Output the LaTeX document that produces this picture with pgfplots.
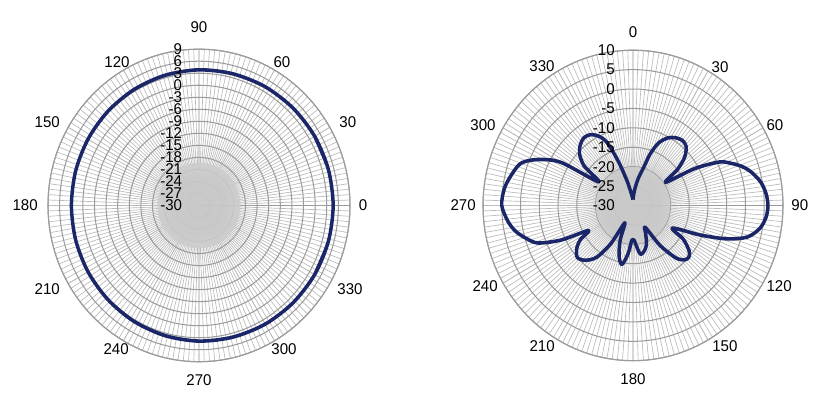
\documentclass[border=0pt]{standalone}
\usepackage{pgfplots}
\usepackage{pgfplotstable}
\pgfplotsset{compat=1.18}
\usepgfplotslibrary{polar}
\usepackage{fontspec}
\setmainfont{Liberation Sans}
\definecolor{navy}{RGB}{27,38,105}
\definecolor{ringc}{RGB}{155,155,155}
\definecolor{spokec}{RGB}{188,188,188}
\definecolor{diskc}{RGB}{204,204,204}
\pgfplotstableread{
a d
-30 4.5
-15 4.6
0 4.65
15 4.6
30 4.5
45 4.35
60 4.2
75 4.0
90 3.85
105 3.65
120 3.45
135 3.25
150 3.1
165 3.0
180 2.95
195 3.0
210 3.1
225 3.25
240 3.45
255 3.65
270 3.85
285 4.0
300 4.2
315 4.35
330 4.5
345 4.6
360 4.65
375 4.6
390 4.5
}\leftdata
\pgfplotstableread{
a d
0 -28.5
4 -27
8 -25
12 -22.5
16 -20
19 -16
23 -12.5
28 -10.3
33 -9.2
38 -8.7
43 -9.2
48 -11.5
52 -15
55.5 -19.5
60 -11
64 -4.5
67 -2
71 0.8
75 2.8
80 4.6
85 5.6
90 6
95 5.6
100 4.3
105 1.5
109 -3.6
113 -10.5
119 -18
123 -14
128 -11
132 -10
136 -10.5
140 -12.5
145 -17.5
150 -23.5
155 -22
160 -19.5
165 -18
171 -17.3
175 -19.5
178 -21
182 -21
186 -17.5
191 -14.5
196 -16.5
201 -20.5
206 -25
211 -18.5
216 -13.5
222 -11
228 -10.
234 -11.5
238 -13.5
241.5 -16.5
245 -9
249 -3
253 -0.5
258 2
263 3.6
270 5
277 4.6
283 3.5
290 1.8
295 -2
300 -7.8
303.5 -19
308 -13.5
313 -10.5
318 -9
323 -8.2
328 -8.5
333 -10
337 -12.5
341 -18
346 -23.5
352 -27
356 -28
360 -28.5
}\rightdata
\tikzset{
  rl/.style={anchor=east, inner sep=0pt, font=\fontsize{11.3}{13}\selectfont},
  tl/.style={anchor=center, inner sep=0pt, font=\fontsize{11.3}{13}\selectfont},
}
\begin{document}
\begin{tikzpicture}
\useasboundingbox (-149.25pt,-144.4pt) rectangle (475.5pt,154.1pt);
\pgfplotsset{
  mypolar/.style={
    scale only axis, width=226.5pt, height=226.5pt,
    anchor=center,
    xmin=0, xmax=360, ymin=0,
    xtick={0,30,...,330},
    minor xtick={0,2,...,358},
    grid=both,
    major x grid style={spokec, line width=0.5pt},
    minor x grid style={spokec, line width=0.5pt},
    major y grid style={ringc, line width=0.75pt},
    axis line style={ringc, line width=0.8pt},
    major tick style={draw=none}, minor tick style={draw=none},
    yticklabels={}, xticklabels={},
    clip=false,
  },
}
\begin{scope}[transform canvas={yscale=1.035}]
\begin{polaraxis}[mypolar, at={(0pt,0pt)},
  ymax=39, ytick={0,3,...,39}]
\fill[diskc, opacity=0.85] (axis cs:0,0) circle[radius=31pt];
\addplot[navy, line width=2.6pt, smooth, line join=round] table[x=a, y expr=\thisrow{d}+30] {\leftdata};
\node[tl] at (axis cs:0,42.4) {0};
\node[tl] at (axis cs:28.4,43.7) {30};
\node[tl] at (axis cs:59.1,41.7) {60};
\node[tl] at (axis cs:90,44.5) {90};
\node[tl] at (axis cs:120.6,41.6) {120};
\node[tl] at (axis cs:152,44.4) {150};
\node[tl] at (axis cs:180,44.9) {180};
\node[tl] at (axis cs:208,44.4) {210};
\node[tl] at (axis cs:239.1,41.7) {240};
\node[tl] at (axis cs:270,43.5) {270};
\node[tl] at (axis cs:301.5,42) {300};
\node[tl] at (axis cs:331.9,44.2) {330};
\node[rl, xshift=-12.5pt] at (axis cs:90,39) {9};
\node[rl, xshift=-12.5pt] at (axis cs:90,36) {6};
\node[rl, xshift=-12.5pt] at (axis cs:90,33) {3};
\node[rl, xshift=-12.5pt] at (axis cs:90,30) {0};
\node[rl, xshift=-12.5pt] at (axis cs:90,27) {-3};
\node[rl, xshift=-12.5pt] at (axis cs:90,24) {-6};
\node[rl, xshift=-12.5pt] at (axis cs:90,21) {-9};
\node[rl, xshift=-12.5pt] at (axis cs:90,18) {-12};
\node[rl, xshift=-12.5pt] at (axis cs:90,15) {-15};
\node[rl, xshift=-12.5pt] at (axis cs:90,12) {-18};
\node[rl, xshift=-12.5pt] at (axis cs:90,9) {-21};
\node[rl, xshift=-12.5pt] at (axis cs:90,6) {-24};
\node[rl, xshift=-12.5pt] at (axis cs:90,3) {-27};
\node[rl, xshift=-12.5pt] at (axis cs:90,0) {-30};
\end{polaraxis}
\begin{polaraxis}[mypolar, at={(325.5pt,0pt)}, width=225pt, height=225pt,
  ymax=40, ytick={0,5,...,40}]
\fill[diskc, opacity=0.85] (axis cs:0,0) circle[radius=28pt];
\addplot[navy, line width=2.6pt, smooth, line join=round] table[x expr=90-\thisrow{a}, y expr=\thisrow{d}+30] {\rightdata};
\node[tl] at (axis cs:90,44.6) {0};
\node[tl] at (axis cs:56.9,42.5) {30};
\node[tl] at (axis cs:28.6,43.1) {60};
\node[tl] at (axis cs:0,44.5) {90};
\node[tl] at (axis cs:-28.2,44.2) {120};
\node[tl] at (axis cs:-56,43.8) {150};
\node[tl] at (axis cs:-90,44.8) {180};
\node[tl] at (axis cs:236.3,43.7) {210};
\node[tl] at (axis cs:207.9,44.6) {240};
\node[tl] at (axis cs:180,45.3) {270};
\node[tl] at (axis cs:152.7,45) {300};
\node[tl] at (axis cs:124.1,43.3) {330};
\node[rl, xshift=-13.5pt] at (axis cs:90,40) {10};
\node[rl, xshift=-13.5pt] at (axis cs:90,35) {5};
\node[rl, xshift=-13.5pt] at (axis cs:90,30) {0};
\node[rl, xshift=-13.5pt] at (axis cs:90,25) {-5};
\node[rl, xshift=-13.5pt] at (axis cs:90,20) {-10};
\node[rl, xshift=-13.5pt] at (axis cs:90,15) {-15};
\node[rl, xshift=-13.5pt] at (axis cs:90,10) {-20};
\node[rl, xshift=-13.5pt] at (axis cs:90,5) {-25};
\node[rl, xshift=-13.5pt] at (axis cs:90,0) {-30};
\end{polaraxis}
\end{scope}
\end{tikzpicture}
\end{document}
